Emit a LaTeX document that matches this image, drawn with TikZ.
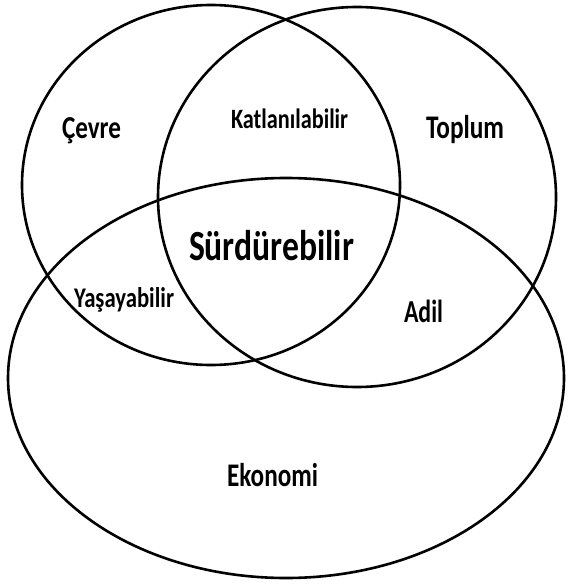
\documentclass[tikz,border=0pt]{standalone}
\usepackage{fontspec}
\usepackage{graphicx}
\setmainfont{Carlito}
\newcommand{\vlbl}[3]{\resizebox{#1pt}{\height}{\fontsize{#2pt}{#2pt}\selectfont\bfseries #3}}
\tikzset{
  setline/.style={draw=black, line width=2.6pt},
  lbl/.style={anchor=base, inner sep=0pt, outer sep=0pt, text=black}
}
\begin{document}
\begin{tikzpicture}[x=1pt,y=-1pt]
\useasboundingbox[fill=white] (0,0) rectangle (567,585);
% sets
\draw[setline] (211,185) ellipse [x radius=189pt, y radius=180pt];
\draw[setline] (357,197) ellipse [x radius=199pt, y radius=190pt];
\draw[setline] (286,378) ellipse [x radius=278pt, y radius=200pt];
% labels
\node[lbl] (cevre) at (91.5,139) {\vlbl{59}{32}{Çevre}};
\node[lbl] (katl) at (289.5,129) {\vlbl{117}{28}{Katlanılabilir}};
\node[lbl] (toplum) at (465,139) {\vlbl{78}{33}{Toplum}};
\node[lbl] (surd) at (271.5,260) {\vlbl{165}{43}{Sürdürebilir}};
\node[lbl] (yasa) at (124,307) {\vlbl{100}{28.5}{Yaşayabilir}};
\node[lbl] (adil) at (423.5,322) {\vlbl{39}{32}{Adil}};
\node[lbl] (eko) at (272.5,486) {\vlbl{91}{33}{Ekonomi}};
\end{tikzpicture}
\end{document}
